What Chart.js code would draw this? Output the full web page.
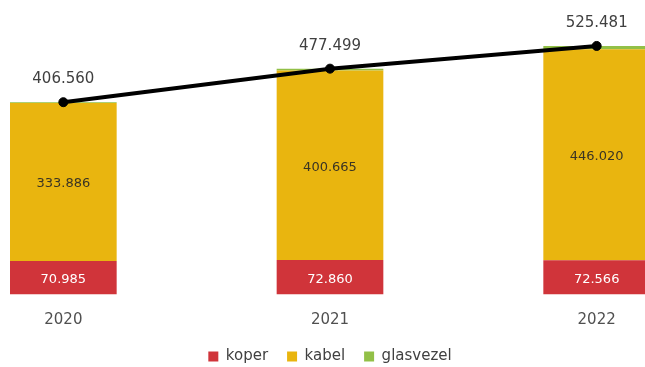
<!DOCTYPE html>
<html>
<head>
<meta charset="utf-8">
<script src="https://cdn.jsdelivr.net/npm/chart.js@4.4.1/dist/chart.umd.min.js"></script>
<style>
  html, body { margin: 0; padding: 0; background: #fff; overflow: hidden; }
  #wrap { position: absolute; left: -70px; top: 0; width: 800px; height: 374px; }
</style>
</head>
<body>
<div id="wrap"><canvas id="chart"></canvas></div>
<script>
// gegevens
const jaren = ['2020', '2021', '2022'];
const koper = [70985, 72860, 72566];
const kabel = [333886, 400665, 446020];
const glasvezel = [1689, 3974, 6895];
const totaal = [406560, 477499, 525481];

const fmt = n => String(n).replace(/\B(?=(\d{3})+(?!\d))/g, '.');

// labels in de balken en boven de lijn
const labelPlugin = {
    id: 'labels',
    afterDatasetsDraw(chart) {
        const ctx = chart.ctx;
        ctx.save();
        ctx.textAlign = 'center';
        ctx.textBaseline = 'middle';
        chart.data.datasets.forEach((ds, i) => {
            const meta = chart.getDatasetMeta(i);
            meta.data.forEach((el, j) => {
                if (ds.type === 'line') {
                    ctx.font = '15px "DejaVu Sans"';
                    ctx.fillStyle = '#404040';
                    ctx.fillText(fmt(ds.data[j]), el.x, el.y - 23);
                } else if (i < 2) {
                    ctx.font = '13px "DejaVu Sans"';
                    ctx.fillStyle = i === 0 ? '#ffffff' : '#3a3424';
                    ctx.fillText(fmt(ds.data[j]), el.x, (el.y + el.base) / 2 + 2);
                }
            });
        });
        ctx.restore();
    }
};

const ctx = document.getElementById('chart').getContext('2d');
const chart = new Chart(ctx, {
    type: 'bar',
    data: {
        labels: jaren,
        datasets: [
            { label: 'koper', data: koper, backgroundColor: '#d0343a', stack: 'a', order: 1 },
            { label: 'kabel', data: kabel, backgroundColor: '#e9b50f', stack: 'a', order: 1 },
            { label: 'glasvezel', data: glasvezel, backgroundColor: '#92c047', stack: 'a', order: 1 },
            {
                type: 'line', label: 'totaal', data: totaal, stack: 'b', order: 0,
                borderColor: '#000', borderWidth: 4, pointRadius: 4.5, pointBorderWidth: 1,
                pointBackgroundColor: '#000', pointBorderColor: '#000', tension: 0
            }
        ]
    },
    options: {
        responsive: true,
        maintainAspectRatio: false,
        animation: false,
        layout: { autoPadding: false, padding: { top: 10.7, left: 0, right: 0, bottom: 0 } },
        datasets: { bar: { barPercentage: 0.4, categoryPercentage: 1 } },
        scales: {
            x: {
                stacked: true,
                grid: { display: false, drawTicks: false },
                border: { display: false },
                ticks: { color: '#505050', font: { family: 'DejaVu Sans', size: 15 }, padding: 17 },
                afterFit: scale => { scale.height = 35.5; }
            },
            y: {
                stacked: true,
                display: false,
                min: 0,
                max: 600000
            }
        },
        plugins: {
            tooltip: { enabled: false },
            legend: {
                position: 'bottom',
                labels: {
                    boxWidth: 10,
                    boxHeight: 10,
                    padding: 19,
                    color: '#404040',
                    font: { family: 'DejaVu Sans', size: 15 },
                    filter: item => item.text !== 'totaal'
                }
            }
        }
    },
    plugins: [labelPlugin]
});
</script>
</body>
</html>
